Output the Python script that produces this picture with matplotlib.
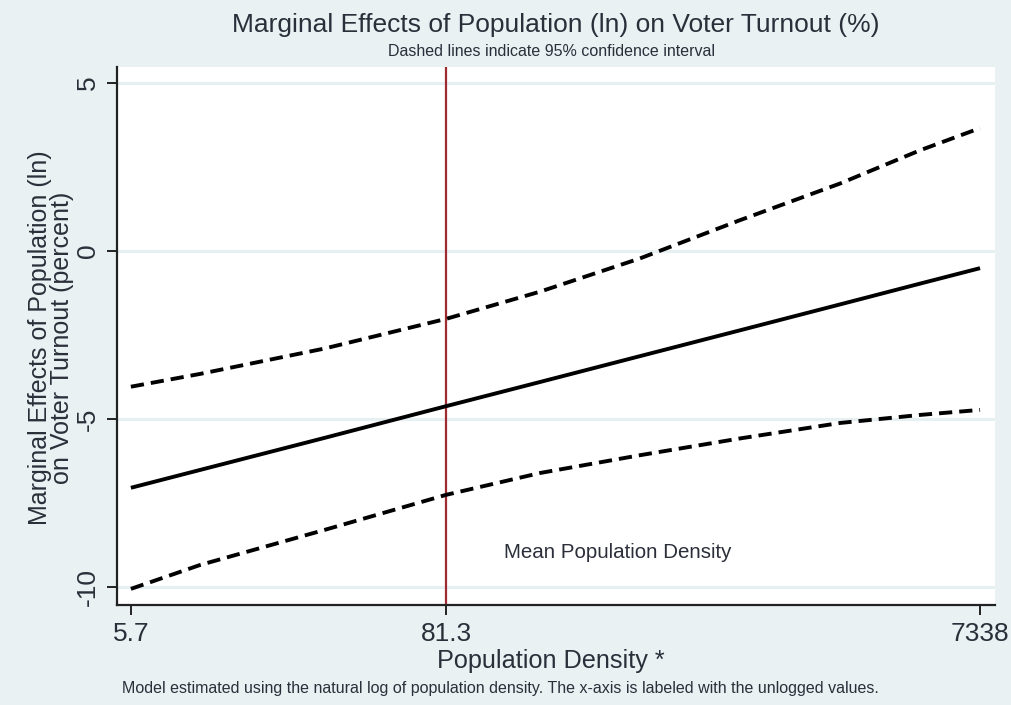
import matplotlib
matplotlib.use("Agg")
import matplotlib.pyplot as plt
import numpy as np

# ---- data ----
density = [5.7, 10.2, 29.3, 81.3, 179.5, 417, 970, 2253, 4427, 7338]
marginal_effect = [-7.05, -6.52, -5.56, -4.62, -3.90, -3.13, -2.36, -1.59, -0.97, -0.51]
ci_upper = [-4.04, -3.66, -2.90, -2.02, -1.21, -0.22, 0.92, 2.01, 3.00, 3.66]
ci_lower = [-10.06, -9.35, -8.30, -7.26, -6.61, -6.08, -5.58, -5.12, -4.88, -4.73]
mean_density = 81.3
x_ticks = [5.7, 81.3, 7338]
x_tick_labels = ["5.7", "81.3", "7338"]
y_ticks = [5, 0, -5, -10]
y_tick_labels = ["5", "0", "-5", "-10"]

title = "Marginal Effects of Population (ln) on Voter Turnout (%)"
subtitle = "Dashed lines indicate 95% confidence interval"
ylabel = "Marginal Effects of Population (ln)\non Voter Turnout (percent)"
xlabel = "Population Density *"
note = ("Model estimated using the natural log of population density. "
        "The x-axis is labeled with the unlogged values.")
annot = "Mean Population Density"

plt.rcParams['font.family'] = ['Liberation Sans', 'DejaVu Sans']

W, H = 1011, 705
bg = '#e9f1f3'
grid_c = '#e6eff2'
text_c = '#2b2f3a'

fig = plt.figure(figsize=(W / 100, H / 100), dpi=100, facecolor=bg)
L, R, T, B = 117, 995, 67, 605
ax = fig.add_axes([L / W, 1 - B / H, (R - L) / W, (B - T) / H])
ax.set_facecolor('white')

ax.set_xscale('log')
ax.set_xlim(5.07, 8325)
ax.set_ylim(-10.54, 5.48)

for yv in y_ticks:
    ax.axhline(yv, color=grid_c, lw=2.2, zorder=1)

ax.axvline(mean_density, color='#9e2b2f', lw=1.6, zorder=2)

dash = (0, (3.4, 1.8))
ax.plot(density, marginal_effect, color='black', lw=2.8, zorder=3,
        solid_capstyle='butt', solid_joinstyle='round')
ax.plot(density, ci_upper, color='black', lw=2.8, zorder=3,
        linestyle=dash, dash_capstyle='butt')
ax.plot(density, ci_lower, color='black', lw=2.8, zorder=3,
        linestyle=dash, dash_capstyle='butt')

ax.set_xticks(x_ticks)
ax.set_xticklabels(x_tick_labels)
ax.xaxis.set_minor_locator(matplotlib.ticker.NullLocator())
ax.set_yticks(y_ticks)
ax.set_yticklabels(y_tick_labels, rotation=90, va='center')

ax.tick_params(axis='both', direction='out', length=7, width=1.4,
               color='#222222', labelsize=19, labelcolor=text_c, pad=5)

for s in ['top', 'right']:
    ax.spines[s].set_visible(False)
for s in ['left', 'bottom']:
    ax.spines[s].set_color('#222222')
    ax.spines[s].set_linewidth(1.6)

def fx(px):
    return px / W

def fy(py):
    return 1 - py / H

fig.text(fx(556), fy(25), title, ha='center', va='center', fontsize=19, color=text_c)
fig.text(fx(551), fy(52), subtitle, ha='center', va='center', fontsize=11.5, color=text_c)
fig.text(fx(51), fy(338), ylabel, ha='center', va='center', rotation=90,
         fontsize=18, color=text_c, linespacing=0.92)
fig.text(fx(551), fy(661), xlabel, ha='center', va='center', fontsize=18.2, color=text_c)
fig.text(fx(122), fy(688), note, ha='left', va='center', fontsize=11.5, color=text_c)
fig.text(fx(504), fy(552), annot, ha='left', va='center', fontsize=14.8, color=text_c)

fig.savefig('out.png', dpi=100, facecolor=bg)
